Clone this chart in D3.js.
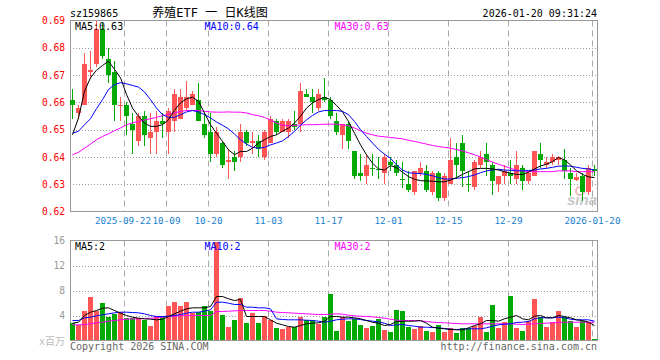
<!DOCTYPE html>
<html>
<head>
<meta charset="utf-8">
<title>养殖ETF 日K线图</title>
<script src="https://d3js.org/d3.v7.min.js"></script>
<style>
  body { margin: 0; background: #fff; }
  svg { display: block; }
  text { font-family: "DejaVu Sans Mono", "Noto Sans CJK SC", monospace; font-size: 10px; }
</style>
</head>
<body>
<svg></svg>
<script>
//trading days in the chart
let dates = [
  '2025-09-09','2025-09-10','2025-09-11','2025-09-12','2025-09-15','2025-09-16','2025-09-17','2025-09-18','2025-09-19','2025-09-22',
  '2025-09-23','2025-09-24','2025-09-25','2025-09-26','2025-09-29','2025-09-30','2025-10-09','2025-10-10','2025-10-13','2025-10-14',
  '2025-10-15','2025-10-16','2025-10-17','2025-10-20','2025-10-21','2025-10-22','2025-10-23','2025-10-24','2025-10-27','2025-10-28',
  '2025-10-29','2025-10-30','2025-10-31','2025-11-03','2025-11-04','2025-11-05','2025-11-06','2025-11-07','2025-11-10','2025-11-11',
  '2025-11-12','2025-11-13','2025-11-14','2025-11-17','2025-11-18','2025-11-19','2025-11-20','2025-11-21','2025-11-24','2025-11-25',
  '2025-11-26','2025-11-27','2025-11-28','2025-12-01','2025-12-02','2025-12-03','2025-12-04','2025-12-05','2025-12-08','2025-12-09',
  '2025-12-10','2025-12-11','2025-12-12','2025-12-15','2025-12-16','2025-12-17','2025-12-18','2025-12-19','2025-12-22','2025-12-23',
  '2025-12-24','2025-12-25','2025-12-26','2025-12-29','2025-12-30','2025-12-31','2026-01-05','2026-01-06','2026-01-07','2026-01-08',
  '2026-01-09','2026-01-12','2026-01-13','2026-01-14','2026-01-15','2026-01-16','2026-01-19','2026-01-20'
];

//daily open / close / high / low
let open = [
  .661,.656,.659,.671,.674,.687,.676,.671,.659,.659, .652,.646,.655,.647,.649,.653,.649,.653,.654,.658,
  .659,.661,.652,.649,.641,.645,.638,.640,.640,.649, .645,.646,.640,.645,.653,.649,.649,.652,.652,.663,
  .662,.658,.662,.661,.653,.648,.652,.642,.634,.633, .6358,.6357,.634,.638,.637,.6320,.630,.627,.634,.635,
  .627,.634,.625,.630,.640,.645,.6301,.629,.637,.641, .637,.630,.633,.634,.632,.636,.631,.633,.641,.637,
  .638,.639,.639,.634,.6316,.633,.627,.6356
];
let close = [
  .659,.658,.674,.672,.687,.677,.670,.659,.659,.655, .650,.655,.648,.649,.653,.652,.657,.663,.662,.662,
  .663,.653,.648,.641,.649,.637,.639,.638,.649,.645, .646,.643,.649,.654,.649,.653,.653,.651,.664,.662,
  .660,.663,.661,.655,.649,.652,.646,.633,.633,.637, .6355,.6354,.640,.637,.634,.6318,.628,.635,.636,.628,
  .634,.625,.633,.639,.637,.635,.6299,.638,.640,.638, .631,.633,.635,.633,.637,.631,.634,.642,.639,.638,
  .640,.640,.635,.632,.6328,.627,.636,.6349
];
let high = [
  .665,.659,.678,.679,.690,.689,.680,.675,.662,.660, .656,.656,.657,.656,.657,.656,.658,.665,.665,.668,
  .664,.667,.656,.656,.651,.646,.643,.642,.652,.650, .649,.648,.650,.655,.654,.654,.654,.657,.667,.665,
  .665,.665,.669,.662,.656,.652,.653,.642,.641,.641, .641,.640,.641,.640,.639,.638,.635,.635,.638,.637,
  .635,.635,.634,.647,.645,.648,.635,.639,.642,.645, .638,.633,.637,.639,.642,.637,.635,.642,.645,.640,
  .641,.6405,.643,.636,.634,.634,.637,.637
];
let low = [
  .654,.654,.659,.669,.673,.676,.667,.653,.653,.648, .641,.644,.644,.641,.641,.647,.641,.649,.654,.657,
  .659,.653,.647,.638,.640,.636,.632,.635,.638,.644, .641,.640,.639,.645,.648,.649,.647,.650,.649,.662,
  .656,.657,.660,.654,.648,.643,.643,.632,.631,.630, .633,.632,.630,.635,.633,.6285,.627,.626,.633,.627,
  .626,.624,.624,.630,.632,.629,.627,.628,.636,.633, .626,.627,.630,.630,.630,.628,.630,.633,.636,.636,
  .637,.637,.632,.6255,.631,.624,.626,.633
];

//price moving averages as drawn
let ma5 = [
  .6481,.6543,.6641,.6690,.6718,.6735,.6751,.6721,.6690,.6629, .6579,.6549,.6524,.6512,.6512,.6518,.6536,.6571,.6598,.6613,
  .6619,.6604,.6561,.6518,.6487,.6457,.6426,.6408,.6420,.6420, .6432,.6451,.6463,.6475,.6481,.6494,.6506,.6524,.6549,.6579,
  .6598,.6610,.6619,.6610,.6589,.6565,.6530,.6487,.6444,.6408, .6377,.6356,.6352,.6368,.6361,.6344,.6328,.6318,.6313,.6312,
  .6311,.6309,.6309,.6315,.6324,.6336,.6346,.6356,.6358,.6358, .6356,.6352,.6346,.6340,.6336,.6336,.6344,.6356,.6367,.6373,
  .6383,.6398,.6389,.6371,.6349,.6336,.6327,.6324
];
let ma10 = [
  .6487,.6494,.6518,.6540,.6577,.6610,.6647,.6665,.6672,.6668, .6662,.6656,.6638,.6610,.6579,.6555,.6545,.6545,.6555,.6565,
  .6570,.6565,.6555,.6543,.6528,.6516,.6503,.6484,.6463,.6447, .6435,.6432,.6435,.6444,.6451,.6459,.6475,.6494,.6516,.6536,
  .6552,.6565,.6570,.6570,.6570,.6567,.6555,.6530,.6500,.6475, .6451,.6428,.6410,.6395,.6371,.6352,.6342,.6340,.6339,.6336,
  .6331,.6324,.6319,.6319,.6322,.6324,.6328,.6334,.6342,.6349, .6352,.6355,.6352,.6351,.6349,.6349,.6350,.6352,.6356,.6358,
  .6362,.6366,.6367,.6366,.6362,.6358,.6356,.6352
];
let ma30 = [
  .6408,.6417,.6432,.6447,.6463,.6475,.6485,.6496,.6506,.6518, .6525,.6530,.6535,.6540,.6545,.6551,.6557,.6561,.6567,.6570,
  .6570,.6570,.6567,.6565,.6564,.6564,.6565,.6564,.6564,.6561, .6555,.6551,.6545,.6536,.6524,.6516,.6514,.6516,.6517,.6518,
  .6518,.6519,.6520,.6520,.6520,.6518,.6514,.6506,.6496,.6487, .6481,.6476,.6474,.6471,.6469,.6466,.6461,.6457,.6452,.6447,
  .6442,.6438,.6435,.6432,.6427,.6422,.6415,.6408,.6400,.6390, .6381,.6373,.6366,.6358,.6352,.6349,.6346,.6346,.6346,.6346,
  .6346,.6349,.6349,.6349,.6346,.6346,.6346,.6346
];

//volume, millions
let vol = [
  2.77,2.56,4.8,6.93,4.8,5.97,3.84,4.27,4.64,3.57, 3.63,3.63,3.31,2.4,4.0,4.0,5.6,6.13,5.6,6.13,
  4.37,4.53,5.6,4.8,15.73,4.16,2.13,3.36,6.77,2.77, 4.37,2.77,4.0,3.31,1.97,1.81,2.13,2.13,3.73,3.31,
  3.31,2.67,3.73,7.47,1.6,3.73,3.09,3.47,2.56,1.97, 2.4,3.47,1.76,1.33,4.96,4.69,2.24,1.81,2.4,1.6,
  1.33,2.56,1.33,2.03,1.17,1.97,1.97,2.4,3.84,1.44, 5.76,1.97,2.93,7.2,2.03,1.6,3.09,6.67,3.84,2.24,
  2.93,4.8,3.73,3.09,2.24,3.09,2.93,0.16
];
let vma5 = [
  2.77,2.93,4.0,4.53,4.8,5.17,5.23,4.8,4.37,4.0, 3.73,3.57,3.47,3.41,3.31,3.41,3.84,4.27,4.69,5.07,
  5.23,5.23,5.23,5.44,7.04,7.04,6.67,6.4,6.56,3.84, 3.84,3.84,3.84,3.31,2.77,2.51,2.24,2.13,2.4,2.67,
  2.77,2.83,3.09,3.84,3.84,3.73,3.73,3.63,3.47,3.2, 2.93,2.77,2.4,2.56,3.04,3.09,3.09,3.09,3.2,2.77,
  2.13,1.97,1.87,1.76,1.71,1.71,2.03,2.4,2.67,3.2, 3.2,3.09,3.47,3.73,4.0,3.47,3.31,3.89,4.0,3.63,
  3.63,4.0,3.84,3.63,3.31,3.2,2.93,2.4
];
let vma10 = [
  3.2,3.2,3.63,3.73,3.95,4.11,4.27,4.43,4.53,4.53, 4.48,4.43,4.27,4.0,3.84,3.84,3.89,4.0,4.16,4.37,
  4.53,4.53,4.69,4.91,6.13,6.13,5.97,5.76,5.76,5.33, 5.33,5.23,5.23,5.07,3.47,3.36,3.31,3.31,3.31,3.25,
  3.2,3.09,2.93,3.09,3.31,3.41,3.47,3.47,3.36,3.2, 3.09,2.99,2.77,2.4,2.51,2.56,2.4,2.29,2.13,2.13,
  2.08,2.03,1.92,1.81,1.76,1.81,1.87,1.87,1.87,2.03, 2.29,2.51,2.61,2.67,2.88,2.93,3.04,3.47,3.63,3.63,
  3.63,3.73,3.63,3.41,3.31,3.31,3.31,3.09
];
let vma30 = [
  2.51,2.51,2.56,2.67,2.83,2.93,3.09,3.2,3.31,3.41, 3.47,3.47,3.52,3.57,3.63,3.73,3.84,3.89,3.95,4.0,
  4.0,4.0,4.0,4.0,4.64,4.64,4.69,4.75,4.8,4.8, 4.8,4.8,4.8,4.69,4.53,4.48,4.43,4.37,4.32,4.27,
  4.21,4.16,4.16,4.2,4.27,4.21,4.05,3.95,3.89,3.84, 3.79,3.68,3.57,3.41,3.25,3.2,3.2,3.2,3.15,3.04,
  2.93,2.88,2.83,2.77,2.72,2.67,2.67,2.67,2.67,2.67, 2.67,2.67,2.67,2.67,2.61,2.56,2.61,2.67,2.72,2.77,
  2.83,2.88,2.93,2.93,2.93,2.93,2.93,2.93
];

//axis ticks and labels
let tickDates = ['2025-09-22','2025-10-09','2025-10-20','2025-11-03','2025-11-17','2025-12-01','2025-12-15','2025-12-29','2026-01-20'];
let tickLabels = ['2025-09-22','10-09','10-20','11-03','11-17','12-01','12-15','12-29','2026-01-20'];
let priceTicks = [0.62, 0.63, 0.64, 0.65, 0.66, 0.67, 0.68, 0.69];
let volTicks = [4, 8, 12, 16];
let volLegend = ['MA5:2', 'MA10:2', 'MA30:2'];

//svg and panel geometry
let svg = d3.select('svg');
let width = 660;
let height = 360;
let left = 70;
let right = 597;
let pTop = 20.5, pBottom = 211.5;
let vTop = 240.5, vBottom = 340.5;

let red = '#ff5555';
let green = '#00aa00';
let gridColor = '#a8a8a8';

svg.attr('width', width).attr('height', height);

//scales
let xScale = d3.scaleBand().domain(dates).range([left, left + dates.length * 6]);
let yScale = d3.scaleLinear().domain([0.62, 0.69]).range([pBottom, pTop]);
let vScale = d3.scaleLinear().domain([0, 16]).range([vBottom, vTop]);
let cx = d => xScale(d) + 2.5;

//horizontal dotted grid
let hGrid = (ticks, scale) => {
  svg.append('g')
    .selectAll('line')
    .data(ticks)
    .enter()
    .append('line')
    .attr('x1', left).attr('x2', right)
    .attr('y1', d => Math.round(scale(d)) + 0.5)
    .attr('y2', d => Math.round(scale(d)) + 0.5)
    .attr('stroke', '#999')
    .attr('stroke-dasharray', '1,2');
};
hGrid(priceTicks.slice(1, -1), yScale);
hGrid(volTicks.slice(0, -1), vScale);

//vertical dashed grid at labelled dates
let vGrid = (y1, y2) => {
  svg.append('g')
    .selectAll('line')
    .data(tickDates)
    .enter()
    .append('line')
    .attr('x1', d => xScale(d) + 0.5).attr('x2', d => xScale(d) + 0.5)
    .attr('y1', y1).attr('y2', y2)
    .attr('stroke', gridColor)
    .attr('stroke-dasharray', '6,4');
};
vGrid(pTop, pBottom);
vGrid(vTop, vBottom);

//panel frames
[[pTop, pBottom], [vTop, vBottom]].forEach(p => {
  svg.append('rect')
    .attr('x', left + 0.5).attr('y', p[0])
    .attr('width', right - left).attr('height', p[1] - p[0])
    .attr('fill', 'none')
    .attr('stroke', '#999');
});

//sina watermark
svg.append('circle')
  .attr('cx', 580).attr('cy', 191).attr('r', 4)
  .attr('fill', 'none').attr('stroke', '#f0bcbc').attr('stroke-width', 2);
svg.append('text')
  .attr('x', 597).attr('y', 205)
  .attr('text-anchor', 'end')
  .style('font-family', 'Liberation Sans, sans-serif')
  .style('font-size', '15px').style('font-weight', 'bold').style('font-style', 'italic')
  .attr('fill', '#c8c8c8')
  .text('sina');

//candles
let colorOf = i => close[i] >= open[i] ? red : green;
let candles = svg.append('g');
dates.forEach((d, i) => {
  let hy = Math.round(yScale(high[i]));
  let ly = Math.round(yScale(low[i]));
  candles.append('rect')
    .attr('x', xScale(d) + 2).attr('y', hy)
    .attr('width', 1).attr('height', Math.max(1, ly - hy))
    .attr('fill', colorOf(i));
  let top = Math.round(yScale(Math.max(open[i], close[i])));
  let bot = Math.round(yScale(Math.min(open[i], close[i])));
  candles.append('rect')
    .attr('x', xScale(d)).attr('y', top)
    .attr('width', 5).attr('height', Math.max(1, bot - top))
    .attr('fill', colorOf(i));
});

//volume bars
svg.append('g')
  .selectAll('rect')
  .data(vol)
  .enter()
  .append('rect')
  .attr('x', (d, i) => xScale(dates[i]))
  .attr('y', d => Math.round(vScale(d)))
  .attr('width', 5)
  .attr('height', d => 340 - Math.round(vScale(d)))
  .attr('fill', (d, i) => colorOf(i));

//moving average lines
let drawLine = (values, scale, color) => {
  let line = d3.line()
    .x((d, i) => cx(dates[i]))
    .y(d => scale(d));
  svg.append('path')
    .datum(values)
    .attr('d', line)
    .attr('fill', 'none')
    .attr('stroke', color)
    .attr('stroke-width', 1);
};
drawLine(ma30, yScale, '#ff00ff');
drawLine(ma10, yScale, '#0000ff');
drawLine(ma5, yScale, '#000000');
drawLine(vma30, vScale, '#ff00ff');
drawLine(vma10, vScale, '#0000ff');
drawLine(vma5, vScale, '#000000');

//price axis
let yAxis = d3.axisLeft(yScale)
  .tickValues(priceTicks)
  .tickFormat(d3.format('.2f'))
  .tickSize(0)
  .tickPadding(5);
let gy = svg.append('g')
  .attr('transform', 'translate(' + left + ', 0)')
  .call(yAxis);
gy.select('.domain').remove();
gy.selectAll('text').attr('fill', '#ff0000').style('font-size', '9.6px').style('font-family', 'DejaVu Sans Mono');

//volume axis
let vAxis = d3.axisLeft(vScale)
  .tickValues(volTicks)
  .tickSize(0)
  .tickPadding(5);
let gv = svg.append('g')
  .attr('transform', 'translate(' + left + ', 0)')
  .call(vAxis);
gv.select('.domain').remove();
gv.selectAll('text').attr('fill', '#999').style('font-size', '9.6px').style('font-family', 'DejaVu Sans Mono');

//date axis, labels centred on the dashed lines
let xAxis = d3.axisBottom(xScale)
  .tickValues(tickDates)
  .tickFormat((d, i) => tickLabels[i])
  .tickSize(0)
  .tickPadding(6);
let gx = svg.append('g')
  .attr('transform', 'translate(-2.5, ' + 211 + ')')
  .call(xAxis);
gx.select('.domain').remove();
gx.selectAll('text').attr('fill', '#1a80d0').style('font-size', '9.3px').style('font-family', 'DejaVu Sans Mono');
gx.selectAll('.tick').filter((d, i) => i == 0).attr('transform', d => 'translate(' + (xScale(d) + 1.5) + ',0)');

//legends
let legend = (y, items) => {
  items.forEach((t, i) => {
    svg.append('text')
      .attr('x', [75, 204.5, 334.5][i]).attr('y', y)
      .attr('fill', ['#000', '#0000ff', '#ff00ff'][i])
      .text(t);
  });
};
let last = dates.length - 1;
legend(29.5, [
  'MA5:' + ma5[last].toFixed(2),
  'MA10:' + ma10[last].toFixed(2),
  'MA30:' + ma30[last].toFixed(2)
]);
legend(249.5, volLegend);

//header and footer texts
svg.append('text').attr('x', 70).attr('y', 16.5).text('sz159865');
svg.append('text').attr('x', 210).attr('y', 16.5)
  .attr('text-anchor', 'middle').style('font-size', '12px')
  .text('养殖ETF 一 日K线图');
svg.append('text').attr('x', 597).attr('y', 16.5)
  .attr('text-anchor', 'end').text('2026-01-20 09:31:24');
svg.append('text').attr('x', 65).attr('y', 344.5)
  .attr('text-anchor', 'end').attr('fill', '#bbb').text('x百万');
svg.append('text').attr('x', 70).attr('y', 349.5)
  .attr('fill', '#666').text('Copyright 2026 SINA.COM');
svg.append('text').attr('x', 597).attr('y', 349.5)
  .attr('text-anchor', 'end').attr('fill', '#666').text('http://finance.sina.com.cn');
</script>
</body>
</html>
